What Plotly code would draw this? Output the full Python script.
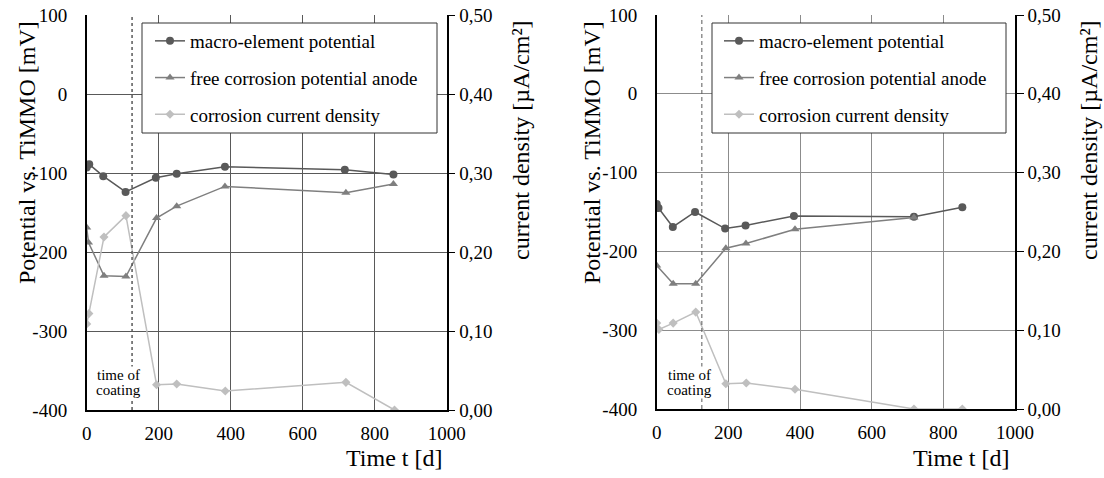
import plotly.graph_objects as go

# ---------------- data ----------------
# Left panel
L_macro_t = [0, 7, 46, 108, 192, 250, 384, 717, 852]
L_macro_v = [-93, -89, -104, -124, -106, -101, -92, -96, -102]
L_free_t = [0, 5, 48, 109, 194, 250, 384, 720, 852]
L_free_v = [-169, -188, -230, -231, -157, -142, -117, -125, -114]
L_cur_t = [0, 6, 48, 109, 194, 250, 385, 720, 855]
L_cur_v = [0.109, 0.122, 0.219, 0.246, 0.032, 0.033, 0.024, 0.035, 0.0]
L_coating_t = 126

# Right panel
R_macro_t = [0, 5, 45, 107, 191, 248, 383, 718, 853]
R_macro_v = [-140, -145, -169, -150, -171, -167, -155, -156, -144]
R_free_t = [0, 46, 109, 193, 249, 386, 718]
R_free_v = [-218, -241, -241, -196, -190, -172, -157]
R_cur_t = [0, 6, 46, 109, 193, 250, 386, 718, 853]
R_cur_v = [0.109, 0.101, 0.109, 0.123, 0.032, 0.033, 0.025, 0.0, 0.0]
R_coating_t = 126

pot_ticks = [-400, -300, -200, -100, 0, 100]
pot_ticktext = ["-400", "-300", "-200", "-100", "0", "100"]
cur_ticks = [0.0, 0.1, 0.2, 0.3, 0.4, 0.5]
cur_ticktext = ["0,00", "0,10", "0,20", "0,30", "0,40", "0,50"]
time_ticks = [0, 200, 400, 600, 800, 1000]

names = ["macro-element potential", "free corrosion potential anode", "corrosion current density"]
colors = ["#595959", "#7f7f7f", "#bfbfbf"]
symbols = ["circle", "triangle-up", "diamond"]

FONT = "Liberation Serif, Times New Roman, serif"
W, H = 1104, 478

fig = go.Figure()

def add_panel(xa, ya, ya2, legend, mt, mv, ft, fv, ct, cv):
    for i, (t, v, yy) in enumerate([(mt, mv, ya), (ft, fv, ya), (ct, cv, ya2)]):
        fig.add_trace(go.Scatter(
            x=t, y=v, xaxis=xa, yaxis=yy, mode="lines+markers", name=names[i],
            line=dict(color=colors[i], width=1.5),
            marker=dict(color=colors[i], symbol=symbols[i], size=8 if i < 2 else 7),
            legend=legend, legendgroup=legend + str(i), showlegend=True))

add_panel("x", "y", "y2", "legend", L_macro_t, L_macro_v, L_free_t, L_free_v, L_cur_t, L_cur_v)
add_panel("x2", "y3", "y4", "legend2", R_macro_t, R_macro_v, R_free_t, R_free_v, R_cur_t, R_cur_v)

def px_x(p):
    return p / W

def px_y(p):
    return 1 - p / H

tickfont = dict(family=FONT, size=19, color="black")

def xaxis_def(x0, x1, anchor, gridc):
    return dict(domain=[px_x(x0), px_x(x1)], range=[0, 1000], tickvals=time_ticks,
                showgrid=True, gridcolor=gridc, gridwidth=1, zeroline=False,
                showline=True, linecolor="black", linewidth=1.5, ticks="",
                ticklabelstandoff=5, ticklabeloverflow="allow",
                tickfont=tickfont, anchor=anchor, fixedrange=True)

def yaxis_def(y0, y1, anchor, gridc):
    return dict(domain=[px_y(y1), px_y(y0)], range=[-400, 100], tickvals=pot_ticks,
                ticktext=pot_ticktext,
                showgrid=True, gridcolor=gridc, gridwidth=1, zeroline=False,
                showline=True, linecolor="black", linewidth=1.5, ticks="",
                ticklabelstandoff=14, ticklabeloverflow="allow",
                tickfont=tickfont, anchor=anchor, mirror=False)

def yaxis2_def(overlay, anchor):
    return dict(overlaying=overlay, side="right", range=[0, 0.5], tickvals=cur_ticks,
                ticktext=cur_ticktext, showgrid=False, zeroline=False,
                showline=True, linecolor="black", linewidth=1.5,
                ticks="outside", ticklen=7, tickcolor="black", tickwidth=1,
                ticklabeloverflow="allow",
                tickfont=tickfont, anchor=anchor)

legend_common = dict(xanchor="left", yanchor="top", bgcolor="rgba(0,0,0,0)",
                     borderwidth=0, font=dict(family=FONT, size=19, color="black"),
                     tracegroupgap=9, itemwidth=30)

fig.update_layout(
    width=W, height=H, margin=dict(l=0, r=0, t=0, b=0, autoexpand=False),
    paper_bgcolor="white", plot_bgcolor="white",
    font=dict(family=FONT, color="black"),
    xaxis=xaxis_def(86.7, 446.7, "y", "#595959"),
    yaxis=yaxis_def(15, 410, "x", "#595959"),
    yaxis2=yaxis2_def("y", "x"),
    xaxis2=xaxis_def(656.7, 1015, "y3", "#8c8c8c"),
    yaxis3=yaxis_def(15, 409, "x2", "#8c8c8c"),
    yaxis4=yaxis2_def("y3", "x2"),
    legend=dict(x=px_x(150), y=px_y(22), **legend_common),
    legend2=dict(x=px_x(719), y=px_y(22), **legend_common),
    showlegend=True,
)

# legend boxes
for x0, x1 in [(142, 437), (712, 1006)]:
    fig.add_shape(type="rect", xref="paper", yref="paper",
                  x0=px_x(x0), x1=px_x(x1), y0=px_y(133), y1=px_y(23),
                  line=dict(color="#333333", width=1), fillcolor="white", layer="above")

# time of coating lines
fig.add_shape(type="line", xref="x", yref="y", x0=L_coating_t, x1=L_coating_t, y0=-400, y1=100,
              line=dict(color="#595959", width=1.5, dash="3px,3px"), layer="above")
fig.add_shape(type="line", xref="x2", yref="y3", x0=R_coating_t, x1=R_coating_t, y0=-400, y1=100,
              line=dict(color="#595959", width=1, dash="4px,3px"), layer="above")

for cx in [118, 689]:
    for cy, txt in [(375, "time of"), (390, "coating")]:
        fig.add_annotation(x=px_x(cx), y=px_y(cy), xref="paper", yref="paper", text=txt,
                           showarrow=False, font=dict(family=FONT, size=15, color="black"),
                           bgcolor="white", xanchor="center", yanchor="middle",
                           borderpad=0)

# axis titles
title_font = dict(family=FONT, size=24, color="black")
for cx, cy, txt, ang in [
    (27, 153, "Potential vs. TiMMO [mV]", -90),
    (521, 140, "current density [µA/cm²]", -90),
    (394, 458, "Time t [d]", 0),
    (592, 153, "Potential vs. TiMMO [mV]", -90),
    (1089, 140, "current density [µA/cm²]", -90),
    (961, 458, "Time t [d]", 0),
]:
    fig.add_annotation(x=px_x(cx), y=px_y(cy), xref="paper", yref="paper", text=txt,
                       showarrow=False, textangle=ang, font=title_font,
                       xanchor="center", yanchor="middle")

# remove the default 8px page margin so the figure fills the window exactly
fig.write_html("out.html", config={"displayModeBar": False},
               post_script="document.body.style.margin='0';")
